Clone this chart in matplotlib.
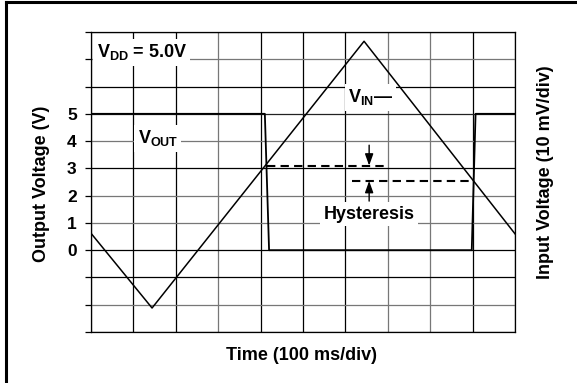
import matplotlib
matplotlib.use("Agg")
import matplotlib.pyplot as plt
from matplotlib.lines import Line2D

plt.rcParams["font.family"] = ["Liberation Sans", "DejaVu Sans"]
plt.rcParams["font.weight"] = "bold"
plt.rcParams["mathtext.fontset"] = "custom"
plt.rcParams["mathtext.rm"] = "Liberation Sans:bold"
plt.rcParams["mathtext.it"] = "Liberation Sans:bold"
plt.rcParams["mathtext.bf"] = "Liberation Sans:bold"

# output (comparator) trace, volts vs time divisions
vout_t = [0.0, 4.10, 4.20, 8.98, 9.07, 10.0]
vout_v = [5.0, 5.0, 0.0, 0.0, 5.0, 5.0]

# input triangle ramp, plotted on the same grid (10 mV/div)
vin_t = [0.0, 1.44, 6.44, 10.0]
vin_v = [0.62, -2.12, 7.66, 0.60]

# switching thresholds
thr_high = 3.10
thr_low = 2.54
thr_high_span = [4.15, 7.0]
thr_low_span = [6.15, 8.98]

ytick_vals = list(range(-3, 9))
ytick_labels = ["" if v < 0 or v > 5 else str(v) for v in ytick_vals]
xgrid_vals = list(range(0, 11))

# grid lines in the scope capture are a mix of black and grey
xgrid_colors = ["k", "k", "k", "#777777", "k", "k", "k", "#777777", "#777777", "k", "k"]
ygrid_colors = {-3: "k", -2: "#777777", -1: "k", 0: "k", 1: "#777777", 2: "#777777",
                3: "k", 4: "#777777", 5: "#222222", 6: "k", 7: "#777777", 8: "k"}

fig = plt.figure(figsize=(5.77, 3.83), dpi=100)
ax = fig.add_axes([91 / 577, 1 - 332 / 383, 424 / 577, 300 / 383])
ax.set_xlim(0, 10)
ax.set_ylim(-3, 8)

for x, c in zip(xgrid_vals, xgrid_colors):
    ax.axvline(x, color=c, lw=0.9, zorder=1)
for y in ytick_vals:
    ax.axhline(y, color=ygrid_colors[y], lw=0.9, zorder=1)

ax.set_yticks(ytick_vals)
ax.set_yticklabels(ytick_labels, fontsize=12.5, fontweight="bold")
ax.tick_params(axis="y", direction="out", length=4.3, width=0.9, pad=6)
ax.set_xticks([])
for s in ax.spines.values():
    s.set_linewidth(0.9)

ax.plot(vout_t, vout_v, color="k", lw=1.3, zorder=3)
ax.plot(vin_t, vin_v, color="k", lw=1.1, zorder=3)

ax.plot(thr_high_span, [thr_high, thr_high], color="k", lw=1.5, ls=(0, (4, 2.5)), zorder=3)
ax.plot(thr_low_span, [thr_low, thr_low], color="k", lw=1.5, ls=(0, (4, 2.5)), zorder=3)

head = "-|>,head_length=0.7,head_width=0.25"
ax.annotate("", xy=(6.56, thr_high), xytext=(6.56, 3.85),
            arrowprops=dict(arrowstyle=head, color="k", lw=1.0, shrinkA=0, shrinkB=0),
            zorder=4)
ax.annotate("", xy=(6.56, thr_low), xytext=(6.56, 1.8),
            arrowprops=dict(arrowstyle=head, color="k", lw=1.0, shrinkA=0, shrinkB=0),
            zorder=4)

box = dict(facecolor="white", edgecolor="none", pad=2.5)
ax.text(0.13, 7.25, r"$V_{DD}$ = 5.0V", fontsize=13, fontweight="bold", va="center",
        ha="left", bbox=box, zorder=5)
ax.text(1.1, 4.1, r"$V_{OUT}$", fontsize=13, fontweight="bold", va="center",
        ha="left", bbox=box, zorder=5)
ax.text(6.06, 5.6, r"$V_{IN}$—", fontsize=13, fontweight="bold", va="center",
        ha="left", bbox=box, zorder=5)
ax.text(6.56, 1.32, "Hysteresis", fontsize=13, fontweight="bold", va="center",
        ha="center", bbox=box, zorder=5)

fig.text(42 / 577, 1 - 184 / 383, "Output Voltage (V)", rotation=90, fontsize=13,
         fontweight="bold", ha="center", va="center")
fig.text(545 / 577, 1 - 172 / 383, "Input Voltage (10 mV/div)", rotation=90, fontsize=13,
         fontweight="bold", ha="center", va="center")
fig.text(301 / 577, 1 - 355 / 383, "Time (100 ms/div)", fontsize=13,
         fontweight="bold", ha="center", va="center")

# page frame, left and top edges
fig.add_artist(Line2D([6 / 577, 6 / 577], [0, 1 - 2 / 383], color="k", lw=2.2,
                      transform=fig.transFigure))
fig.add_artist(Line2D([6 / 577, 1], [1 - 2 / 383, 1 - 2 / 383], color="k", lw=2.2,
                      transform=fig.transFigure))

fig.savefig("out.png", dpi=100)
